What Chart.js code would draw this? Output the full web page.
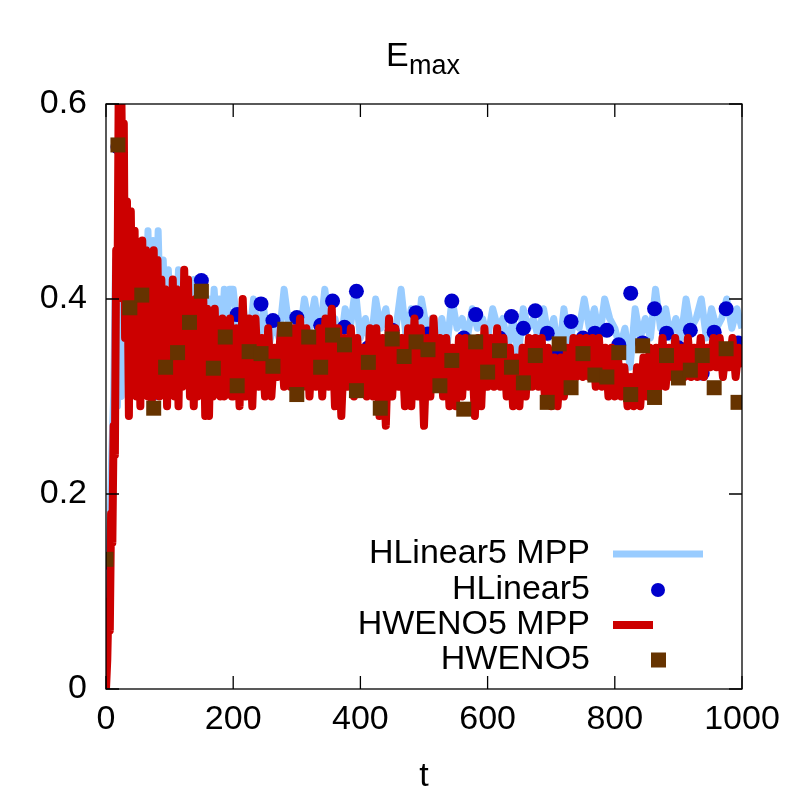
<!DOCTYPE html>
<html>
<head>
<meta charset="utf-8">
<script src="https://cdn.jsdelivr.net/npm/chart.js@4.4.1/dist/chart.umd.min.js"></script>
<style>
  html, body { margin: 0; padding: 0; background: #fff; }
  #c { display: block; }
</style>
</head>
<body>
<canvas id="c" width="800" height="800"></canvas>
<script>
// HLinear5 MPP (light blue line)
const hlinMppT = [0,3,6,9,12,15,18,21,24,27,30,34,38,42,46,50,54,58,62,66,70,74,78,82,86,90,94,98,102,106,110,114,118,122,126,130,134,138,142,146,150,154,158,162,166,170,174,178,182,186,190,194,
  200,208,216,224,232,240,248,256,264,272,280,288,296,304,312,320,328,336,344,352,360,368,376,384,392,400,408,416,424,432,440,448,456,464,472,480,488,496,504,512,520,528,536,544,552,560,568,576,584,592,
  600,608,616,624,632,640,648,656,664,672,680,688,696,704,712,720,728,736,744,752,760,768,776,784,792,800,808,816,824,832,840,848,856,864,872,880,888,896,904,912,920,928,936,944,952,960,968,976,984,992,1000];
const hlinMppE = [0.00,0.07,0.16,0.24,0.30,0.44,0.29,0.43,0.30,0.45,0.33,0.46,0.36,0.44,0.35,0.45,0.36,0.43,0.34,0.47,0.35,0.46,0.36,0.47,0.37,0.44,0.36,0.43,0.37,0.42,0.36,0.43,0.37,0.42,0.36,0.41,0.37,0.42,0.36,0.41,0.37,0.42,0.37,0.40,0.36,0.41,0.37,0.40,0.36,0.41,0.38,0.41,
  0.41,0.36,0.39,0.35,0.40,0.36,0.39,0.35,0.38,0.36,0.41,0.37,0.38,0.36,0.40,0.37,0.40,0.36,0.41,0.37,0.38,0.35,0.39,0.37,0.41,0.36,0.38,0.35,0.40,0.37,0.39,0.35,0.37,0.41,0.36,0.39,0.34,0.40,0.37,0.38,0.36,0.38,0.35,0.40,0.37,0.38,0.36,0.39,0.37,0.38,
  0.36,0.39,0.37,0.38,0.35,0.38,0.34,0.39,0.37,0.38,0.36,0.39,0.36,0.38,0.34,0.39,0.35,0.38,0.37,0.40,0.37,0.39,0.36,0.40,0.38,0.37,0.35,0.37,0.33,0.39,0.36,0.38,0.36,0.41,0.37,0.39,0.36,0.38,0.36,0.40,0.37,0.38,0.40,0.36,0.39,0.37,0.38,0.40,0.37,0.39,0.37];

// HWENO5 MPP (red line)
const hwenoMppT = [0,2,4,6,8,10,12,14,16,18,20,22,24,26,28,30,33,36,39,42,45,48,51,54,57,60,63,66,69,72,75,78,81,84,87,90,93,96,99,102,105,108,111,114,117,120,123,126,129,132,135,138,141,144,147,150,153,156,159,162,165,168,171,174,177,180,183,186,189,192,195,198,
  200,205,210,215,220,225,230,235,240,245,250,255,260,265,270,275,280,285,290,295,300,305,310,315,320,325,330,335,340,345,350,355,360,365,370,375,380,385,390,395,
  400,405,410,415,420,425,430,435,440,445,450,455,460,465,470,475,480,485,490,495,500,505,510,515,520,525,530,535,540,545,550,555,560,565,570,575,580,585,590,595,
  600,605,610,615,620,625,630,635,640,645,650,655,660,665,670,675,680,685,690,695,700,705,710,715,720,725,730,735,740,745,750,755,760,765,770,775,780,785,790,795,
  800,805,810,815,820,825,830,835,840,845,850,855,860,865,870,875,880,885,890,895,900,905,910,915,920,925,930,935,940,945,950,955,960,965,970,975,980,985,990,995,1000];
const hwenoMppE = [0.00,0.03,0.09,0.06,0.18,0.15,0.27,0.24,0.45,0.40,0.62,0.55,0.62,0.50,0.58,0.36,0.50,0.28,0.49,0.33,0.47,0.30,0.44,0.29,0.46,0.34,0.45,0.30,0.42,0.29,0.45,0.32,0.44,0.30,0.42,0.31,0.41,0.29,0.40,0.31,0.42,0.30,0.41,0.29,0.40,0.31,0.43,0.32,0.42,0.30,0.39,0.29,0.40,0.30,0.41,0.32,0.40,0.28,0.39,0.28,0.38,0.30,0.39,0.31,0.37,0.30,0.38,0.30,0.37,0.31,0.38,0.30,
  0.30,0.37,0.29,0.40,0.30,0.38,0.29,0.38,0.31,0.36,0.30,0.37,0.30,0.35,0.32,0.37,0.31,0.36,0.31,0.37,0.30,0.38,0.31,0.37,0.30,0.36,0.31,0.37,0.30,0.38,0.31,0.39,0.29,0.37,0.28,0.36,0.31,0.37,0.30,0.36,
  0.31,0.35,0.30,0.37,0.30,0.37,0.28,0.36,0.27,0.38,0.30,0.37,0.31,0.36,0.29,0.37,0.29,0.38,0.30,0.37,0.27,0.36,0.30,0.38,0.31,0.36,0.30,0.36,0.29,0.35,0.29,0.36,0.30,0.36,0.31,0.35,0.28,0.36,0.29,0.37,
  0.31,0.36,0.31,0.37,0.31,0.36,0.30,0.35,0.29,0.34,0.29,0.35,0.30,0.36,0.31,0.36,0.31,0.36,0.30,0.35,0.29,0.34,0.29,0.34,0.30,0.35,0.31,0.36,0.32,0.36,0.32,0.36,0.32,0.36,0.31,0.36,0.31,0.35,0.30,0.35,
  0.30,0.34,0.30,0.33,0.29,0.32,0.29,0.33,0.29,0.34,0.30,0.35,0.30,0.35,0.31,0.36,0.31,0.35,0.32,0.36,0.32,0.35,0.32,0.36,0.32,0.35,0.32,0.36,0.32,0.35,0.33,0.36,0.33,0.36,0.32,0.35,0.33,0.36,0.32,0.35,0.33];

// marker samples (HLinear5 circles, HWENO5 squares)
const markerT = [0,18.75,37.5,56.25,75,93.75,112.5,131.25,150,168.75,187.5,206.25,225,243.75,262.5,281.25,300,318.75,337.5,356.25,375,393.75,412.5,431.25,450,468.75,487.5,506.25,525,543.75,562.5,581.25,600,618.75,637.5,656.25,675,693.75,712.5,731.25,750,768.75,787.5,806.25,825,843.75,862.5,881.25,900,918.75,937.5,956.25,975,993.75];
const hlinE = [0.13,0.556,0.406,0.40,0.304,0.366,0.402,0.38,0.419,0.36,0.37,0.384,0.36,0.395,0.378,0.36,0.381,0.36,0.373,0.398,0.371,0.408,0.35,0.35,0.368,0.35,0.386,0.364,0.355,0.398,0.36,0.384,0.353,0.36,0.382,0.37,0.388,0.365,0.346,0.377,0.36,0.365,0.368,0.353,0.406,0.355,0.390,0.365,0.35,0.368,0.324,0.366,0.390,0.355];
const hwenoE = [0.133,0.558,0.391,0.404,0.288,0.330,0.345,0.376,0.408,0.329,0.361,0.311,0.346,0.344,0.331,0.369,0.302,0.361,0.330,0.363,0.353,0.306,0.335,0.288,0.359,0.341,0.356,0.348,0.311,0.337,0.287,0.356,0.325,0.347,0.330,0.314,0.342,0.294,0.354,0.309,0.344,0.322,0.320,0.345,0.302,0.352,0.299,0.342,0.319,0.327,0.342,0.309,0.349,0.294];

const xTicks = [0, 200, 400, 600, 800, 1000];
const yTicks = [0, 0.2, 0.4, 0.6];
const legendLabels = ['HLinear5 MPP', 'HLinear5', 'HWENO5 MPP', 'HWENO5'];

const FONT = '"Liberation Sans", Arial, Helvetica, sans-serif';
const pts = (xs, ys) => xs.map((x, i) => ({ x: x, y: ys[i] }));

const frame = {
    id: 'frame',
    afterDraw(chart) {
        const { ctx, chartArea: a, scales } = chart;
        ctx.save();
        ctx.strokeStyle = '#000';
        ctx.lineWidth = 1.3;
        ctx.strokeRect(a.left, a.top, a.right - a.left, a.bottom - a.top);
        const tl = 13;
        ctx.beginPath();
        xTicks.forEach(v => {
            const px = scales.x.getPixelForValue(v);
            ctx.moveTo(px, a.bottom); ctx.lineTo(px, a.bottom - tl);
            ctx.moveTo(px, a.top); ctx.lineTo(px, a.top + tl);
        });
        yTicks.forEach(v => {
            const py = scales.y.getPixelForValue(v);
            ctx.moveTo(a.left, py); ctx.lineTo(a.left + tl, py);
            ctx.moveTo(a.right, py); ctx.lineTo(a.right - tl, py);
        });
        ctx.stroke();

        // title E_max
        ctx.fillStyle = '#000';
        ctx.textBaseline = 'alphabetic';
        ctx.textAlign = 'left';
        ctx.font = '34px ' + FONT;
        ctx.fillText('E', 386, 66);
        ctx.font = '27px ' + FONT;
        ctx.fillText('max', 409, 74);

        // x axis label
        ctx.font = '34px ' + FONT;
        ctx.textAlign = 'center';
        ctx.textBaseline = 'middle';
        ctx.fillText('t', (a.left + a.right) / 2, 777);

        // key, inside lower right
        const ds = chart.data.datasets;
        const rows = [554, 590, 625, 660];
        const textX = a.right - 152, s0 = a.right - 129;
        ctx.textAlign = 'right';
        legendLabels.forEach((lab, i) => {
            ctx.fillStyle = '#000';
            ctx.fillText(lab, textX, rows[i]);
        });
        ctx.lineCap = 'butt';
        ctx.strokeStyle = ds[0].borderColor; ctx.lineWidth = 7;
        ctx.beginPath(); ctx.moveTo(s0, rows[0]); ctx.lineTo(s0 + 90, rows[0]); ctx.stroke();
        ctx.fillStyle = ds[1].backgroundColor;
        ctx.beginPath(); ctx.arc(s0 + 45, rows[1], 7, 0, Math.PI * 2); ctx.fill();
        ctx.strokeStyle = ds[2].borderColor; ctx.lineWidth = 8;
        ctx.beginPath(); ctx.moveTo(s0, rows[2]); ctx.lineTo(s0 + 40, rows[2]); ctx.stroke();
        ctx.fillStyle = ds[3].backgroundColor;
        ctx.fillRect(s0 + 38, rows[3] - 7.5, 15, 15);
        ctx.restore();
    }
};

new Chart(document.getElementById('c').getContext('2d'), {
    type: 'scatter',
    data: {
        datasets: [
            { label: 'HLinear5 MPP', data: pts(hlinMppT, hlinMppE), showLine: true, borderColor: '#99ccff', borderWidth: 7, pointRadius: 0, order: 4, borderJoinStyle: 'round' },
            { label: 'HLinear5', data: pts(markerT, hlinE), backgroundColor: '#0000cc', borderWidth: 0, pointRadius: 7.5, order: 3 },
            { label: 'HWENO5 MPP', data: pts(hwenoMppT, hwenoMppE), showLine: true, borderColor: '#cc0000', borderWidth: 8, pointRadius: 0, order: 2, borderJoinStyle: 'round' },
            { label: 'HWENO5', data: pts(markerT, hwenoE), backgroundColor: '#663300', borderWidth: 0, pointStyle: 'rect', pointRadius: 10.6, order: 1 }
        ]
    },
    options: {
        responsive: false,
        animation: false,
        devicePixelRatio: 1,
        layout: { padding: { top: 104, right: 58, left: 0, bottom: 0 } },
        plugins: { legend: { display: false }, tooltip: { enabled: false }, title: { display: false } },
        scales: {
            x: {
                type: 'linear', min: 0, max: 1000,
                afterFit: s => { s.height = 111; },
                afterBuildTicks: s => { s.ticks = xTicks.map(v => ({ value: v })); },
                grid: { display: false, drawTicks: false },
                border: { display: false },
                ticks: { color: '#000', font: { family: FONT, size: 34 }, padding: 10, maxRotation: 0,
                    callback: v => String(v) }
            },
            y: {
                type: 'linear', min: 0, max: 0.6,
                afterFit: s => { s.width = 106; },
                afterBuildTicks: s => { s.ticks = yTicks.map(v => ({ value: v })); },
                grid: { display: false, drawTicks: false },
                border: { display: false },
                ticks: { color: '#000', font: { family: FONT, size: 34 }, padding: 19,
                    callback: v => v === 0 ? '0' : v.toFixed(1) }
            }
        }
    },
    plugins: [frame]
});
</script>
</body>
</html>
